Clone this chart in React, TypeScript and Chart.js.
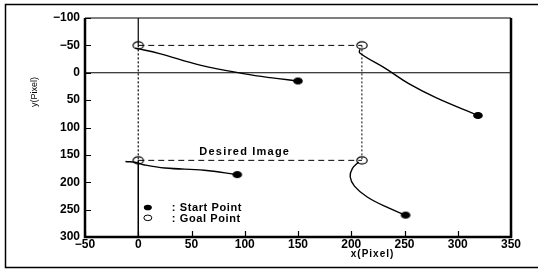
import React, { useEffect, useRef } from "react";
import { Chart, registerables } from "chart.js";
Chart.register(...registerables);

// ---- data ----
const xTicks = [-50, 0, 50, 100, 150, 200, 250, 300, 350];
const yTicks = [-100, -50, 0, 50, 100, 150, 200, 250, 300];

const goalPoints = [
  { x: 0, y: -50 },
  { x: 210, y: -50 },
  { x: 0, y: 160 },
  { x: 210, y: 160 },
];
const startPoints = [
  { x: 150, y: 15 },
  { x: 319, y: 78 },
  { x: 93, y: 186 },
  { x: 251, y: 260 },
];
const traj1 = [
  { x: -3, y: -45 }, { x: 20, y: -35 }, { x: 58, y: -14 }, { x: 100, y: 2 }, { x: 124, y: 9 }, { x: 150, y: 15 },
];
const traj2 = [
  { x: 208, y: -43 }, { x: 208, y: -36 }, { x: 232, y: -8 }, { x: 254, y: 20 }, { x: 280, y: 46 }, { x: 319, y: 78 },
];
const traj3 = [
  { x: -12, y: 162 }, { x: -2, y: 164 }, { x: 5, y: 168 }, { x: 25, y: 174 }, { x: 62, y: 178 }, { x: 93, y: 186 },
];
const traj4 = [
  { x: 207, y: 163 }, { x: 201, y: 175 }, { x: 199, y: 190 }, { x: 203, y: 207 }, { x: 215, y: 227 }, { x: 235, y: 247 }, { x: 251, y: 260 },
];
const desiredTop = [{ x: 0, y: -50 }, { x: 210, y: -50 }];
const desiredBottom = [{ x: 0, y: 160 }, { x: 210, y: 160 }];
const desiredLeft = [{ x: 0, y: -50 }, { x: 0, y: 160 }];
const desiredRight = [{ x: 210, y: -50 }, { x: 210, y: 160 }];
const axisZeroY = [{ x: -50, y: 0 }, { x: 350, y: 0 }];
const axisZeroXTop = [{ x: 0, y: -100 }, { x: 0, y: -50 }];
const axisZeroXBottom = [{ x: 0, y: 160 }, { x: 0, y: 300 }];

const desiredLabel = { x: 100, y: 144, text: "Desired Image" };
const legendItems = [
  { x: 9, y: 246, filled: true, text: ": Start Point" },
  { x: 9, y: 265, filled: false, text: ": Goal Point" },
];
const xTitle = { x: 220, text: "x(Pixel)" };
const yTitle = "y(Pixel)";

const FONT = "'Liberation Sans', Arial, sans-serif";

function ellipseImage(rx: number, ry: number, filled: boolean) {
  const c = document.createElement("canvas");
  const w = Math.ceil(rx * 2 + 3), h = Math.ceil(ry * 2 + 3);
  c.width = w; c.height = h;
  const g = c.getContext("2d")!;
  g.beginPath();
  g.ellipse(w / 2, h / 2, rx, ry, 0, 0, Math.PI * 2);
  g.fillStyle = filled ? "#000" : "#fff";
  g.fill();
  g.lineWidth = 1.2;
  g.strokeStyle = "#000";
  g.stroke();
  return c;
}

const line = (data: any[], dash: number[] = [], width = 1.2) => ({
  type: "scatter" as const,
  data,
  showLine: true,
  borderColor: "#000",
  borderWidth: width,
  borderDash: dash,
  pointRadius: 0,
  tension: 0,
});
const curve = (data: any[]) => ({
  type: "scatter" as const,
  data,
  showLine: true,
  borderColor: "#000",
  borderWidth: 1.4,
  pointRadius: 0,
  tension: 0.4,
});

const framePlugin = {
  id: "frame",
  beforeDraw(chart: any) {
    const { ctx } = chart;
    ctx.save();
    ctx.fillStyle = "#fff";
    ctx.fillRect(0, 0, chart.width, chart.height);
    ctx.restore();
  },
  afterDraw(chart: any) {
    const { ctx, chartArea: a, scales } = chart;
    const xs = scales.x, ys = scales.y;
    ctx.save();
    ctx.strokeStyle = "#000";
    // outer frame
    ctx.lineWidth = 1.5;
    ctx.beginPath();
    ctx.moveTo(540, 4.5);
    ctx.lineTo(5.5, 4.5);
    ctx.lineTo(5.5, 267.5);
    ctx.lineTo(540, 267.5);
    ctx.stroke();
    // plot frame
    ctx.lineWidth = 1.2;
    ctx.beginPath();
    ctx.moveTo(a.left, a.top);
    ctx.lineTo(a.right, a.top);
    ctx.stroke();
    ctx.lineWidth = 2.5;
    ctx.beginPath();
    ctx.moveTo(a.left, a.top);
    ctx.lineTo(a.left, a.bottom);
    ctx.lineTo(a.right, a.bottom);
    ctx.lineTo(a.right, a.top);
    ctx.stroke();
    // inside ticks
    ctx.lineWidth = 1.2;
    ctx.beginPath();
    for (const v of yTicks) {
      const py = Math.round(ys.getPixelForValue(v)) + 0.5;
      ctx.moveTo(a.left, py);
      ctx.lineTo(a.left + 6, py);
    }
    for (const v of xTicks) {
      const px = Math.round(xs.getPixelForValue(v)) + 0.5;
      ctx.moveTo(px, a.bottom);
      ctx.lineTo(px, a.bottom - 6);
    }
    ctx.stroke();
    ctx.fillStyle = "#000";
    // desired image label
    ctx.font = `bold 11px ${FONT}`;
    (ctx as any).letterSpacing = "1.2px";
    ctx.textAlign = "center";
    ctx.textBaseline = "middle";
    ctx.fillText(desiredLabel.text, xs.getPixelForValue(desiredLabel.x), ys.getPixelForValue(desiredLabel.y));
    // legend
    (ctx as any).letterSpacing = "0.6px";
    ctx.textAlign = "left";
    for (const it of legendItems) {
      const px = xs.getPixelForValue(it.x);
      const py = ys.getPixelForValue(it.y);
      ctx.beginPath();
      ctx.ellipse(px, py, 4, 2.8, 0, 0, Math.PI * 2);
      if (it.filled) ctx.fill();
      else { ctx.lineWidth = 1; ctx.stroke(); }
      ctx.fillText(it.text, px + 24, py + 1);
    }
    // x title
    ctx.font = `bold 10px ${FONT}`;
    (ctx as any).letterSpacing = "1px";
    ctx.textAlign = "center";
    ctx.fillText(xTitle.text, xs.getPixelForValue(xTitle.x), 254);
    // y title
    ctx.font = `9px ${FONT}`;
    (ctx as any).letterSpacing = "0px";
    ctx.translate(35, 92);
    ctx.rotate(-Math.PI / 2);
    ctx.fillText(yTitle, 0, 0);
    ctx.restore();
  },
};

export default function App() {
  const ref = useRef<HTMLCanvasElement | null>(null);
  useEffect(() => {
    if (!ref.current) return;
    const startImg = ellipseImage(4.2, 3, true);
    const goalImg = ellipseImage(5.2, 3.6, false);
    const chart = new Chart(ref.current, {
      type: "scatter",
      data: {
        datasets: [
          line(axisZeroY, [], 1.2),
          line(axisZeroXTop, [], 1.2),
          line(axisZeroXBottom, [], 1.5),
          line(desiredTop, [6, 4], 1),
          line(desiredBottom, [6, 4], 1),
          line(desiredLeft, [2, 2], 1.2),
          line(desiredRight, [2, 2], 1),
          curve(traj1),
          curve(traj2),
          curve(traj3),
          curve(traj4),
          {
            type: "scatter" as const,
            data: startPoints,
            pointStyle: startImg,
            pointRadius: 4,
          },
          {
            type: "scatter" as const,
            data: goalPoints,
            pointStyle: goalImg,
            pointRadius: 5,
          },
        ] as any,
      },
      options: {
        animation: false,
        responsive: false,
        layout: { padding: { left: 0, right: 27, top: 18, bottom: 0 } },
        plugins: { legend: { display: false }, tooltip: { enabled: false } },
        scales: {
          x: {
            type: "linear",
            min: -50,
            max: 350,
            afterFit: (s: any) => { s.height = 33; },
            afterBuildTicks: (s: any) => { s.ticks = xTicks.map((v) => ({ value: v })); },
            grid: { display: false, drawTicks: false },
            border: { display: false },
            ticks: {
              padding: 0,
              color: "#000",
              font: { family: FONT, size: 12, weight: "bold" },
              callback: (v: any) => String(v).replace("-", "−"),
            },
          },
          y: {
            type: "linear",
            reverse: true,
            min: -100,
            max: 300,
            afterFit: (s: any) => { s.width = 85; },
            afterBuildTicks: (s: any) => { s.ticks = yTicks.map((v) => ({ value: v })); },
            grid: { display: false, drawTicks: false },
            border: { display: false },
            ticks: {
              padding: 5,
              color: "#000",
              font: { family: FONT, size: 12, weight: "bold" },
              callback: (v: any) => String(v).replace("-", "−"),
            },
          },
        },
      },
      plugins: [framePlugin],
    });
    return () => chart.destroy();
  }, []);
  return (
    <div style={{ position: "absolute", left: 0, top: 0, width: 538, height: 270 }}>
      <canvas ref={ref} width={538} height={270} style={{ display: "block" }} />
    </div>
  );
}
